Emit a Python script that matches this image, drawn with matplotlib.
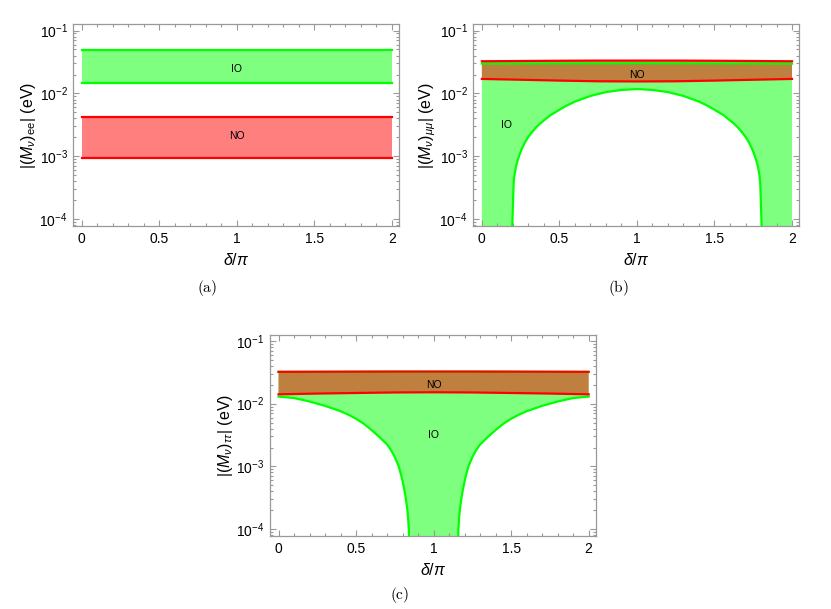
import numpy as np
import matplotlib
matplotlib.use('Agg')
import matplotlib.pyplot as plt
from matplotlib.ticker import MultipleLocator, LogLocator, NullFormatter

plt.rcParams['font.family'] = ['Liberation Sans', 'DejaVu Sans']
plt.rcParams['mathtext.fontset'] = 'custom'
plt.rcParams['mathtext.rm'] = 'Liberation Sans'
plt.rcParams['mathtext.it'] = 'Liberation Sans:italic'
plt.rcParams['mathtext.bf'] = 'Liberation Sans:bold'

# delta/pi points where the flat-ish band edges were read
x_band = [0, 0.25, 0.5, 0.75, 1.0, 1.25, 1.5, 1.75, 2.0]

# (a) |(M_nu)_ee|
a_io_hi = [0.0485, 0.0485, 0.0485, 0.0485, 0.0485, 0.0485, 0.0485, 0.0485, 0.0485]
a_io_lo = [0.0146, 0.0146, 0.0146, 0.0146, 0.0146, 0.0146, 0.0146, 0.0146, 0.0146]
a_no_hi = [0.0042, 0.0042, 0.0042, 0.0042, 0.0042, 0.0042, 0.0042, 0.0042, 0.0042]
a_no_lo = [0.00093, 0.00093, 0.00093, 0.00093, 0.00093, 0.00093, 0.00093, 0.00093, 0.00093]

# (b) |(M_nu)_mumu|
b_no_hi = [0.0325, 0.0328, 0.0331, 0.0333, 0.0333, 0.0333, 0.0331, 0.0328, 0.0325]
b_no_lo = [0.0170, 0.0165, 0.0160, 0.0156, 0.0155, 0.0156, 0.0160, 0.0165, 0.0170]
b_io_hi = [0.0298, 0.0299, 0.0300, 0.0301, 0.0302, 0.0301, 0.0300, 0.0299, 0.0298]
b_io_lo_x = [0, 0.19, 0.197, 0.2, 0.205, 0.21, 0.22, 0.23, 0.245, 0.26, 0.28, 0.3, 0.325, 0.35, 0.375, 0.4,
             0.44, 0.5, 0.55, 0.6, 0.7, 0.8, 0.9, 1.0,
             1.1, 1.2, 1.3, 1.4, 1.45, 1.5, 1.56, 1.6, 1.625, 1.65, 1.675, 1.7, 1.72, 1.74, 1.755, 1.77,
             1.78, 1.79, 1.795, 1.8, 1.803, 1.81, 2.0]
b_io_lo = [1e-6, 1e-6, 9e-5, 1.58e-4, 3.8e-4, 5.0e-4, 6.9e-4, 8.5e-4, 1.1e-3, 1.35e-3, 1.7e-3, 2.04e-3, 2.45e-3,
           2.88e-3, 3.31e-3, 3.72e-3, 4.47e-3, 5.5e-3, 6.46e-3, 7.41e-3, 9.12e-3, 1.05e-2, 1.135e-2, 1.175e-2,
           1.135e-2, 1.05e-2, 9.12e-3, 7.41e-3, 6.46e-3, 5.5e-3, 4.47e-3, 3.72e-3, 3.31e-3, 2.88e-3, 2.45e-3,
           2.04e-3, 1.7e-3, 1.35e-3, 1.1e-3, 8.5e-4, 6.9e-4, 5.0e-4, 3.8e-4, 1.58e-4, 9e-5, 1e-6, 1e-6]

# (c) |(M_nu)_tautau|
c_no_hi = [0.0322, 0.0323, 0.0324, 0.0325, 0.0325, 0.0325, 0.0324, 0.0323, 0.0322]
c_no_lo = [0.0141, 0.0145, 0.0148, 0.0151, 0.0152, 0.0151, 0.0148, 0.0145, 0.0141]
c_io_hi = [0.0321, 0.0322, 0.0323, 0.0324, 0.0324, 0.0324, 0.0323, 0.0322, 0.0321]
c_io_lo_x = [0, 0.1, 0.2, 0.3, 0.4, 0.45, 0.5, 0.55, 0.6, 0.65, 0.7, 0.725, 0.75, 0.775, 0.79, 0.8, 0.81, 0.82,
             0.83, 0.835, 0.84, 0.845, 0.85,
             1.15, 1.155, 1.16, 1.165, 1.17, 1.18, 1.19, 1.2, 1.21, 1.225, 1.25, 1.275, 1.3, 1.35, 1.4, 1.45,
             1.5, 1.55, 1.6, 1.7, 1.8, 1.9, 2.0]
c_io_lo = [0.01297, 0.0123, 0.01084, 0.00923, 0.00759, 0.00668, 0.00575, 0.00479, 0.0038, 0.00295, 0.00224,
           0.00182, 0.00141, 0.001, 0.00074, 0.00058, 0.00044, 0.00032, 0.00021, 0.00016, 0.0001, 3.2e-5, 1e-6,
           1e-6, 3.2e-5, 0.0001, 0.00016, 0.00021, 0.00032, 0.00044, 0.00058, 0.00074, 0.001, 0.00141, 0.00182,
           0.00224, 0.00295, 0.0038, 0.00479, 0.00575, 0.00668, 0.00759, 0.00923, 0.01084, 0.0123, 0.01297]

GREEN = (0, 1, 0)
RED = (1, 0, 0)
GREY = '#999999'


def band(ax, x_hi, hi, x_lo, lo, color):
    # filled region between two edges, edges drawn as lines
    px = list(x_hi) + list(x_lo)[::-1]
    py = list(hi) + list(lo)[::-1]
    ax.fill(px, py, color=color, alpha=0.5, lw=0, zorder=1)
    ax.plot(x_hi, hi, color=color, lw=1.6, zorder=2)
    ax.plot(x_lo, lo, color=color, lw=1.6, zorder=2)


def style(ax, ylabel):
    ax.set_yscale('log')
    ax.set_xlim(-0.055, 2.045)
    ax.set_ylim(10 ** -4.11, 10 ** -0.9)
    ax.xaxis.set_major_locator(MultipleLocator(0.5))
    ax.xaxis.set_minor_locator(MultipleLocator(0.1))
    ax.set_xticks([0, 0.5, 1, 1.5, 2])
    ax.set_xticklabels(['0', '0.5', '1', '1.5', '2'])
    ax.yaxis.set_major_locator(LogLocator(base=10, numticks=10))
    ax.yaxis.set_minor_locator(LogLocator(base=10, subs=np.arange(2, 10), numticks=10))
    ax.yaxis.set_minor_formatter(NullFormatter())
    ax.tick_params(which='both', direction='in', top=True, right=True, color=GREY, width=0.8, labelsize=10)
    ax.tick_params(which='major', length=4.5, pad=4)
    ax.tick_params(which='minor', length=2.2)
    for s in ax.spines.values():
        s.set_color(GREY)
        s.set_linewidth(0.9)
    ax.set_xlabel(r'$\delta/\pi$', fontsize=11.5, labelpad=5)
    ax.set_ylabel(ylabel, fontsize=11.5, labelpad=1)


fig = plt.figure(figsize=(8.31, 6.09), dpi=100)

ax1 = fig.add_axes([0.0882, 0.6289, 0.3919, 0.3312])
band(ax1, x_band, a_io_hi, x_band, a_io_lo, GREEN)
band(ax1, x_band, a_no_hi, x_band, a_no_lo, RED)
ax1.text(1.0, 0.0245, 'IO', ha='center', va='center', fontsize=7.5)
ax1.text(1.0, 0.0021, 'NO', ha='center', va='center', fontsize=7.5)
style(ax1, r'$|(M_\nu)_{\rm ee}|$ (eV)')

ax2 = fig.add_axes([0.5696, 0.6289, 0.3919, 0.3312])
band(ax2, x_band, b_io_hi, b_io_lo_x, b_io_lo, GREEN)
band(ax2, x_band, b_no_hi, x_band, b_no_lo, RED)
ax2.text(1.0, 0.020, 'NO', ha='center', va='center', fontsize=7.5)
ax2.text(0.16, 0.0031, 'IO', ha='center', va='center', fontsize=7.5)
style(ax2, r'$|(M_\nu)_{\mu\mu}|$ (eV)')

ax3 = fig.add_axes([0.3249, 0.1199, 0.3919, 0.3305])
band(ax3, x_band, c_io_hi, c_io_lo_x, c_io_lo, GREEN)
band(ax3, x_band, c_no_hi, x_band, c_no_lo, RED)
ax3.text(1.0, 0.020, 'NO', ha='center', va='center', fontsize=7.5)
ax3.text(1.0, 0.0032, 'IO', ha='center', va='center', fontsize=7.5)
style(ax3, r'$|(M_\nu)_{\tau\tau}|$ (eV)')

# sub-figure captions
fig.text(0.2487, 0.527, r'$\mathrm{(a)}$', math_fontfamily='cm', fontsize=11, ha='center', va='center')
fig.text(0.7437, 0.527, r'$\mathrm{(b)}$', math_fontfamily='cm', fontsize=11, ha='center', va='center')
fig.text(0.4813, 0.023, r'$\mathrm{(c)}$', math_fontfamily='cm', fontsize=11, ha='center', va='center')

plt.savefig('out.png', dpi=100)
